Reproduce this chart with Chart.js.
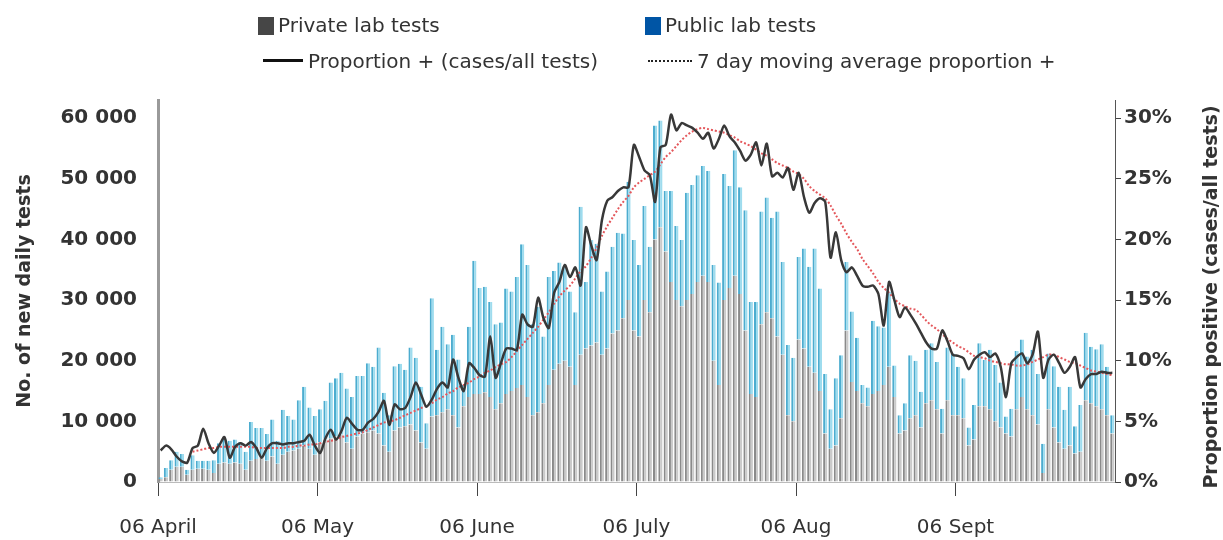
<!DOCTYPE html>
<html>
<head>
<meta charset="utf-8">
<script src="https://cdn.jsdelivr.net/npm/chart.js@4.4.0/dist/chart.umd.min.js"></script>
<style>
  body { margin: 0; background: #fff; }
  #wrap { position: relative; width: 1223px; height: 540px; }
  .lg { position: absolute; font: 20px "DejaVu Sans", sans-serif; color: #333; white-space: nowrap; line-height: 24px; }
  .sq { display: inline-block; width: 16px; height: 18px; vertical-align: -3px; margin-right: 4px; }
  .ln { display: inline-block; width: 40px; height: 0; vertical-align: 6px; margin-right: 5px; }
</style>
</head>
<body>
<div id="wrap">
  <canvas id="myChart"></canvas>
  <div class="lg" style="left:258px;top:13px"><span class="sq" style="background:#464646"></span>Private lab tests</div>
  <div class="lg" style="left:645px;top:13px"><span class="sq" style="background:#0055a5"></span>Public lab tests</div>
  <div class="lg" style="left:263px;top:49px"><span class="ln" style="border-top:3px solid #111"></span>Proportion + (cases/all tests)</div>
  <div class="lg" style="left:648px;top:49px"><span class="ln" style="border-top:2px dotted #222;width:44px"></span>7 day moving average proportion +</div>
</div>
<script>
// daily tests, in thousands, one value per day from 06 April
const privateTests = [
  0.5, 0.8, 2.0, 2.5, 2.5, 1.2, 2.0, 2.2, 2.2, 2.0, 1.5, 3.0, 3.2, 3.0, 3.2, 3.0, 2.0, 3.5, 3.8, 4.0, 3.5, 4.2, 3.0, 4.5, 5.0, 5.2, 5.5, 6.0, 5.5, 4.5,
  6.5, 7.0, 7.2, 7.5, 7.8, 6.5, 5.5, 7.5, 8.0, 8.2, 8.5, 8.0, 6.0, 5.0, 8.5, 9.0, 9.2, 9.5, 8.5, 6.5, 5.5, 10.8, 11.0, 11.5, 12.0, 11.0, 9.0, 12.5, 14.0, 14.5,
  14.5, 14.8, 14.0, 12.0, 13.0, 14.5, 15.0, 15.5, 16.0, 14.0, 11.0, 11.5, 13.0, 16.0, 18.5, 19.5, 20.0, 19.0, 16.0, 21.0, 22.0, 22.5, 23.0, 21.0, 22.0, 24.5, 25.0, 27.0, 30.0, 25.0,
  24.0, 30.0, 28.0, 40.0, 42.0, 38.0, 33.0, 30.0, 29.0, 30.0, 31.0, 33.0, 34.0, 33.0, 20.0, 16.0, 30.0, 32.0, 34.0, 31.0, 25.0, 14.5, 14.0, 26.0, 28.0, 27.0, 24.0, 21.0, 11.0, 10.0,
  23.5, 22.0, 19.0, 18.0, 15.0, 8.0, 5.5, 6.0, 10.5, 25.0, 16.5, 15.0, 13.0, 12.5, 14.5, 15.0, 16.0, 19.0, 14.0, 8.0, 8.5, 10.5, 11.0, 9.0, 13.0, 13.5, 12.0, 8.0, 13.5, 11.0,
  11.0, 10.5, 6.0, 7.0, 12.5, 12.5, 12.0, 10.0, 9.0, 8.0, 7.5, 12.0, 14.0, 12.0, 11.0, 9.5, 1.5, 12.0, 9.0, 6.5, 5.5, 6.0, 4.7, 5.0, 13.5, 13.0, 12.5, 12.0, 11.0, 8.0
];
const publicTests = [
  0.3, 1.5, 1.6, 2.5, 2.1, 0.8, 2.4, 1.3, 1.3, 1.5, 2.1, 3.4, 4.0, 3.8, 3.8, 3.6, 3.0, 6.4, 5.1, 4.9, 4.4, 6.1, 3.8, 7.4, 5.9, 5.1, 8.0, 9.7, 6.8, 6.4,
  5.5, 6.4, 9.2, 9.6, 10.2, 8.9, 8.5, 10.0, 9.5, 11.4, 10.5, 14.2, 8.7, 6.0, 10.6, 10.5, 9.3, 12.7, 12.0, 9.2, 4.2, 19.5, 10.8, 14.1, 10.7, 13.3, 11.2, 3.5, 11.6, 22.0,
  17.5, 17.4, 15.7, 14.0, 13.3, 17.4, 16.4, 18.3, 23.2, 21.8, 15.0, 17.4, 11.0, 17.8, 16.3, 16.7, 15.6, 12.4, 12.0, 24.4, 11.0, 17.4, 16.3, 10.4, 12.7, 14.3, 16.1, 14.0, 19.5, 14.9,
  11.8, 15.5, 10.8, 18.8, 17.6, 10.0, 15.0, 12.2, 10.9, 17.7, 18.0, 17.6, 18.1, 18.3, 15.8, 16.9, 20.8, 16.8, 20.7, 17.6, 19.8, 15.2, 15.7, 18.6, 18.9, 16.6, 20.6, 15.3, 11.6, 10.5,
  13.6, 16.5, 16.5, 20.5, 16.9, 9.8, 6.5, 11.1, 10.4, 11.3, 11.6, 8.8, 3.0, 3.1, 12.1, 10.7, 9.5, 12.4, 5.2, 3.0, 4.5, 10.4, 9.0, 5.9, 8.8, 9.4, 7.8, 4.1, 8.7, 10.2,
  8.0, 6.6, 3.0, 5.7, 10.4, 7.6, 9.8, 9.3, 7.4, 2.8, 4.6, 9.6, 9.5, 8.7, 10.8, 8.3, 4.8, 9.2, 10.1, 9.2, 6.4, 9.7, 4.5, 7.7, 11.1, 9.3, 9.4, 10.7, 8.0, 3.0
];
// proportion positive, %
const positiveRate = [
  2.6, 3.0, 2.7, 2.1, 1.7, 1.6, 2.8, 3.0, 4.4, 3.2, 2.4, 3.0, 3.7, 2.0, 2.9, 3.2, 3.0, 3.3, 2.8, 2.0, 2.8, 3.2, 3.2, 3.1, 3.2, 3.2, 3.3, 3.4, 3.9, 3.0,
  2.4, 3.6, 4.3, 3.5, 4.2, 5.3, 4.8, 4.3, 4.3, 4.9, 5.2, 5.8, 6.7, 4.7, 6.4, 6.0, 6.1, 7.0, 8.2, 7.2, 6.2, 6.8, 7.7, 8.2, 7.8, 10.1, 8.6, 7.5, 9.8, 9.4,
  8.8, 8.7, 12.0, 8.6, 9.8, 11.0, 11.0, 10.9, 13.8, 13.0, 12.8, 15.2, 13.5, 12.7, 15.6, 16.5, 17.9, 16.9, 17.7, 16.2, 21.0, 19.5, 18.3, 21.6, 23.2, 23.5, 24.0, 24.3, 24.3, 27.8,
  26.8, 25.7, 25.3, 23.1, 27.6, 27.8, 30.3, 29.0, 29.6, 29.4, 29.2, 28.8, 28.3, 28.8, 27.5, 28.3, 29.4, 28.5, 28.0, 27.3, 26.5, 27.0, 28.0, 26.1, 27.9, 25.2, 25.5, 25.1, 25.9, 24.1,
  25.5, 23.5, 22.2, 23.0, 23.4, 23.1, 18.5, 20.6, 18.3, 17.3, 17.7, 17.0, 16.2, 16.1, 16.2, 15.5, 12.9, 16.5, 15.0, 13.6, 14.4, 13.8, 13.1, 12.3, 11.5, 11.0, 11.0, 12.5, 11.6, 10.5,
  10.4, 10.2, 9.3, 10.1, 10.5, 10.7, 10.3, 10.6, 9.5, 7.0, 9.8, 10.3, 10.6, 9.8, 10.5, 12.4, 8.6, 10.1, 10.5, 9.8, 9.0, 9.5, 10.3, 7.8, 8.5, 8.9, 8.9, 9.1, 9.0, 9.0
];
const movingAvg = [
  null, null, null, null, null, null, 2.5, 2.6, 2.7, 2.8, 2.8, 2.9, 2.9, 2.9, 2.9, 2.9, 2.9, 2.9, 2.8, 2.8, 2.8, 2.8, 2.8, 2.8, 2.9, 2.9, 3.0, 3.0, 3.1, 3.1,
  3.2, 3.3, 3.4, 3.5, 3.7, 3.8, 3.9, 4.0, 4.1, 4.3, 4.5, 4.7, 4.9, 5.0, 5.1, 5.3, 5.5, 5.7, 5.9, 6.1, 6.3, 6.5, 6.8, 7.0, 7.3, 7.5, 7.8, 8.0, 8.2, 8.5,
  8.7, 9.0, 9.2, 9.5, 9.7, 9.9, 10.3, 10.8, 11.3, 11.8, 12.3, 12.8, 13.4, 14.0, 14.7, 15.3, 15.8, 16.2, 16.8, 17.4, 17.8, 18.5, 19.3, 20.3, 21.1, 21.8, 22.5, 23.1, 23.6, 24.3,
  24.7, 25.0, 25.3, 25.6, 26.2, 26.8, 27.2, 27.7, 28.2, 28.6, 28.9, 29.1, 29.2, 29.1, 29.0, 28.9, 28.8, 28.6, 28.4, 28.1, 27.9, 27.7, 27.4, 27.1, 26.9, 26.6, 26.3, 26.1, 25.9, 25.6,
  25.4, 25.0, 24.4, 24.0, 23.7, 23.4, 22.8, 22.0, 21.3, 20.5, 19.8, 19.2, 18.4, 17.8, 17.2, 16.5, 16.0, 15.6, 15.1, 14.7, 14.5, 14.3, 14.2, 13.8, 13.3, 12.9, 12.6, 12.2, 11.8, 11.5,
  11.2, 11.0, 10.7, 10.4, 10.3, 10.2, 10.0, 9.9, 9.8, 9.7, 9.7, 9.6, 9.6, 9.7, 9.9, 10.1, 10.3, 10.5, 10.5, 10.3, 10.1, 9.9, 9.8, 9.6, 9.4, 9.2, 9.1, 9.0, 8.9, 8.8
];

const tickDays = [0, 30, 60, 90, 120, 150];
const dateLabels = ['06 April', '06 May', '06 June', '06 July', '06 Aug', '06 Sept'];
const testTicks = [0, 10, 20, 30, 40, 50, 60];
const testTickLabels = ['0', '10 000', '20 000', '30 000', '40 000', '50 000', '60 000'];
const rateTicks = [0, 5, 10, 15, 20, 25, 30];
const rightTitle = 'Proportion positive (cases/all tests)';

const pts = arr => arr.map((v, i) => ({ x: i + 0.5, y: v }));

Chart.defaults.font.family = '"DejaVu Sans", sans-serif';
Chart.defaults.color = '#333';

// right axis title reads bottom-to-top in the original
const rightTitlePlugin = {
  id: 'rightTitle',
  afterDraw(chart) {
    const { ctx, chartArea } = chart;
    ctx.save();
    ctx.translate(chart.width - 11, (chartArea.top + chartArea.bottom) / 2 + 6);
    ctx.rotate(-Math.PI / 2);
    ctx.font = 'bold 19px "DejaVu Sans", sans-serif';
    ctx.fillStyle = '#333';
    ctx.textAlign = 'center';
    ctx.textBaseline = 'middle';
    ctx.fillText(rightTitle, 0, 0);
    ctx.restore();
  }
};

const ctx = document.getElementById('myChart');

new Chart(ctx, {
  data: {
    datasets: [
      {
        type: 'line',
        label: 'Proportion + (cases/all tests)',
        data: pts(positiveRate),
        yAxisID: 'y2',
        borderColor: '#383838',
        borderWidth: 2.5,
        pointRadius: 0,
        tension: 0.25,
        order: 0
      },
      {
        type: 'line',
        label: '7 day moving average proportion +',
        data: pts(movingAvg),
        yAxisID: 'y2',
        borderColor: '#e4575b',
        borderWidth: 2,
        borderDash: [2, 2],
        pointRadius: 0,
        tension: 0.3,
        order: 1
      },
      {
        type: 'bar',
        label: 'Private lab tests',
        data: pts(privateTests),
        yAxisID: 'y',
        stack: 'tests',
        backgroundColor: '#cacaca',
        borderColor: '#8a8a8a',
        borderWidth: { left: 2, top: 0, right: 0, bottom: 0 },
        borderSkipped: false,
        barPercentage: 0.8,
        categoryPercentage: 1,
        order: 2
      },
      {
        type: 'bar',
        label: 'Public lab tests',
        data: pts(publicTests),
        yAxisID: 'y',
        stack: 'tests',
        backgroundColor: '#9edcee',
        borderColor: '#4caccf',
        borderWidth: { left: 2, top: 0, right: 0, bottom: 0 },
        borderSkipped: false,
        barPercentage: 0.8,
        categoryPercentage: 1,
        order: 3
      }
    ]
  },
  options: {
    responsive: true,
    maintainAspectRatio: false,
    animation: false,
    layout: { padding: { top: 100, left: 0, right: 0, bottom: 0 } },
    plugins: {
      legend: { display: false },
      tooltip: { enabled: false }
    },
    scales: {
      x: {
        type: 'linear',
        min: 0,
        max: 180,
        offset: false,
        afterBuildTicks: ax => { ax.ticks = tickDays.map(v => ({ value: v })); },
        afterFit: s => { s.height = 58; },
        ticks: {
          autoSkip: false,
          maxRotation: 0,
          padding: 20,
          font: { size: 20 },
          callback: v => dateLabels[tickDays.indexOf(v)]
        },
        grid: { offset: false, drawOnChartArea: false, tickLength: 14, color: '#444' },
        border: { color: '#bbb' }
      },
      y: {
        position: 'left',
        stacked: true,
        min: 0,
        max: 63,
        afterBuildTicks: ax => { ax.ticks = testTicks.map(v => ({ value: v })); },
        afterFit: s => { s.width = 158; },
        ticks: {
          padding: 21,
          font: { size: 20, weight: 'bold' },
          callback: v => testTickLabels[testTicks.indexOf(v)]
        },
        grid: { drawOnChartArea: false, drawTicks: false },
        border: { color: '#9a9a9a', width: 3 },
        title: {
          display: true,
          text: 'No. of new daily tests',
          font: { size: 19, weight: 'bold' },
          padding: { top: 14 }
        }
      },
      y2: {
        position: 'right',
        stacked: false,
        min: 0,
        max: 31.5,
        afterBuildTicks: ax => { ax.ticks = rateTicks.map(v => ({ value: v })); },
        afterFit: s => { s.width = 108; },
        ticks: {
          padding: 3,
          font: { size: 20, weight: 'bold' },
          callback: v => v + '%'
        },
        grid: { drawOnChartArea: false, tickLength: 6, color: '#444' },
        border: { color: '#555', width: 1 }
      }
    }
  },
  plugins: [rightTitlePlugin]
});
</script>
</body>
</html>
